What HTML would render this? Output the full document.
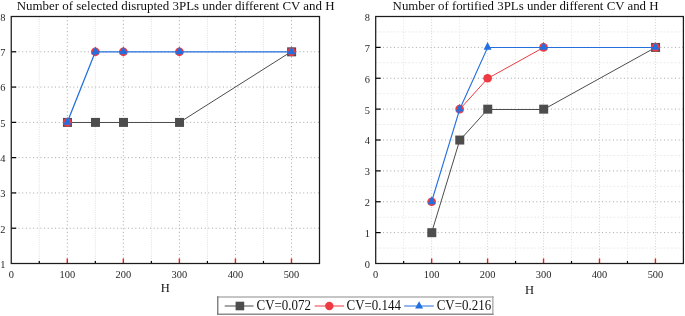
<!DOCTYPE html>
<html><head><meta charset="utf-8"><title>Charts</title>
<style>
html,body{margin:0;padding:0;background:#fff;}
svg{display:block;will-change:transform;}
text{font-family:"Liberation Serif","Noto Serif CJK SC",serif;fill:#111;}
.tl{font-size:10.4px;fill:#262626;}
.al{font-size:12.5px;}
.ti{font-size:12.93px;}
.lg{font-size:12.95px;}
.gm{stroke:#dedede;stroke-width:1;stroke-dasharray:1 1.3;}
.gM{stroke:#a6a6a6;stroke-width:1;stroke-dasharray:1 2.65;}
.gm2{stroke:#ebebeb;stroke-width:1;stroke-dasharray:1.5 1.5;}
.gV2{stroke:#d2d2d2;stroke-width:1;stroke-dasharray:1 1.8;}
.gh2{stroke:#ececec;stroke-width:1;stroke-dasharray:2 1.6;}
.tk{stroke:#000;stroke-width:1.2;}
.tr{stroke:#f21818;stroke-width:1.4;}
.fr{fill:none;stroke:#1c1c1c;stroke-width:1.25;}
</style></head><body>
<svg width="685" height="316" viewBox="0 0 685 316">
<rect width="685" height="316" fill="#fff"/>
<line x1="39.27" y1="16.5" x2="39.27" y2="263.5" class="gm"/>
<line x1="95.32" y1="16.5" x2="95.32" y2="263.5" class="gm"/>
<line x1="151.36" y1="16.5" x2="151.36" y2="263.5" class="gm"/>
<line x1="207.41" y1="16.5" x2="207.41" y2="263.5" class="gm"/>
<line x1="263.45" y1="16.5" x2="263.45" y2="263.5" class="gm"/>
<line x1="67.30" y1="16.5" x2="67.30" y2="263.5" class="gM"/>
<line x1="123.34" y1="16.5" x2="123.34" y2="263.5" class="gM"/>
<line x1="179.39" y1="16.5" x2="179.39" y2="263.5" class="gM"/>
<line x1="235.43" y1="16.5" x2="235.43" y2="263.5" class="gM"/>
<line x1="291.48" y1="16.5" x2="291.48" y2="263.5" class="gM"/>
<line x1="11.25" y1="228.21" x2="319.5" y2="228.21" class="gM"/>
<line x1="11.25" y1="192.93" x2="319.5" y2="192.93" class="gM"/>
<line x1="11.25" y1="157.64" x2="319.5" y2="157.64" class="gM"/>
<line x1="11.25" y1="122.36" x2="319.5" y2="122.36" class="gM"/>
<line x1="11.25" y1="87.07" x2="319.5" y2="87.07" class="gM"/>
<line x1="11.25" y1="51.79" x2="319.5" y2="51.79" class="gM"/>
<line x1="39.27" y1="263.5" x2="39.27" y2="261.0" class="tk"/>
<line x1="95.32" y1="263.5" x2="95.32" y2="261.0" class="tk"/>
<line x1="151.36" y1="263.5" x2="151.36" y2="261.0" class="tk"/>
<line x1="207.41" y1="263.5" x2="207.41" y2="261.0" class="tk"/>
<line x1="263.45" y1="263.5" x2="263.45" y2="261.0" class="tk"/>
<line x1="67.30" y1="263.5" x2="67.30" y2="258.5" class="tr"/>
<line x1="123.34" y1="263.5" x2="123.34" y2="258.5" class="tr"/>
<line x1="179.39" y1="263.5" x2="179.39" y2="258.5" class="tr"/>
<line x1="235.43" y1="263.5" x2="235.43" y2="258.5" class="tr"/>
<line x1="291.48" y1="263.5" x2="291.48" y2="258.5" class="tr"/>
<line x1="11.25" y1="228.21" x2="16.25" y2="228.21" class="tk"/>
<line x1="11.25" y1="192.93" x2="16.25" y2="192.93" class="tk"/>
<line x1="11.25" y1="157.64" x2="16.25" y2="157.64" class="tk"/>
<line x1="11.25" y1="122.36" x2="16.25" y2="122.36" class="tk"/>
<line x1="11.25" y1="87.07" x2="16.25" y2="87.07" class="tk"/>
<line x1="11.25" y1="51.79" x2="16.25" y2="51.79" class="tk"/>
<rect x="11.25" y="16.5" width="308.25" height="247.0" class="fr"/>
<polyline points="67.30,122.50 95.32,122.50 123.34,122.50 179.39,122.50 291.48,51.50" fill="none" stroke="#4d4d4d" stroke-width="1"/>
<rect x="62.95" y="117.91" width="9" height="9" fill="#4d4d4d"/>
<rect x="90.97" y="117.91" width="9" height="9" fill="#4d4d4d"/>
<rect x="118.99" y="117.91" width="9" height="9" fill="#4d4d4d"/>
<rect x="175.04" y="117.91" width="9" height="9" fill="#4d4d4d"/>
<rect x="287.13" y="47.34" width="9" height="9" fill="#4d4d4d"/>
<polyline points="67.30,122.50 95.32,51.50 123.34,51.50 179.39,51.50 291.48,51.50" fill="none" stroke="#ee3a43" stroke-width="0"/>
<circle cx="67.30" cy="122.36" r="4.35" fill="#ee3a43"/>
<circle cx="95.32" cy="51.79" r="4.35" fill="#ee3a43"/>
<circle cx="123.34" cy="51.79" r="4.35" fill="#ee3a43"/>
<circle cx="179.39" cy="51.79" r="4.35" fill="#ee3a43"/>
<circle cx="291.48" cy="51.79" r="4.35" fill="#ee3a43"/>
<polyline points="67.30,122.36 95.32,51.79 123.34,51.79 179.39,51.79 291.48,51.79" fill="none" stroke="#246fde" stroke-width="1.3"/>
<polygon points="67.30,116.96 71.30,124.76 63.30,124.76" fill="#246fde"/>
<polygon points="95.32,46.39 99.32,54.19 91.32,54.19" fill="#246fde"/>
<polygon points="123.34,46.39 127.34,54.19 119.34,54.19" fill="#246fde"/>
<polygon points="179.39,46.39 183.39,54.19 175.39,54.19" fill="#246fde"/>
<polygon points="291.48,46.39 295.48,54.19 287.48,54.19" fill="#246fde"/>
<text x="11.25" y="277.7" class="tl" text-anchor="middle">0</text>
<text x="67.30" y="277.7" class="tl" text-anchor="middle">100</text>
<text x="123.34" y="277.7" class="tl" text-anchor="middle">200</text>
<text x="179.39" y="277.7" class="tl" text-anchor="middle">300</text>
<text x="235.43" y="277.7" class="tl" text-anchor="middle">400</text>
<text x="291.48" y="277.7" class="tl" text-anchor="middle">500</text>
<text x="5.55" y="267.90" class="tl" text-anchor="end">1</text>
<text x="5.55" y="232.61" class="tl" text-anchor="end">2</text>
<text x="5.55" y="197.33" class="tl" text-anchor="end">3</text>
<text x="5.55" y="162.04" class="tl" text-anchor="end">4</text>
<text x="5.55" y="126.76" class="tl" text-anchor="end">5</text>
<text x="5.55" y="91.47" class="tl" text-anchor="end">6</text>
<text x="5.55" y="56.19" class="tl" text-anchor="end">7</text>
<text x="5.55" y="20.90" class="tl" text-anchor="end">8</text>
<text x="165.38" y="292.4" class="al" text-anchor="middle">H</text>
<text x="175.7" y="9.6" class="ti" style="font-size:12.93px" text-anchor="middle">Number of selected disrupted 3PLs under different CV and H</text>
<line x1="403.67" y1="16.5" x2="403.67" y2="263.5" class="gm2"/>
<line x1="459.62" y1="16.5" x2="459.62" y2="263.5" class="gm2"/>
<line x1="515.56" y1="16.5" x2="515.56" y2="263.5" class="gm2"/>
<line x1="571.51" y1="16.5" x2="571.51" y2="263.5" class="gm2"/>
<line x1="627.45" y1="16.5" x2="627.45" y2="263.5" class="gm2"/>
<line x1="375.7" y1="248.06" x2="683.4" y2="248.06" class="gh2"/>
<line x1="375.7" y1="217.19" x2="683.4" y2="217.19" class="gh2"/>
<line x1="375.7" y1="186.31" x2="683.4" y2="186.31" class="gh2"/>
<line x1="375.7" y1="155.44" x2="683.4" y2="155.44" class="gh2"/>
<line x1="375.7" y1="124.56" x2="683.4" y2="124.56" class="gh2"/>
<line x1="375.7" y1="93.69" x2="683.4" y2="93.69" class="gh2"/>
<line x1="375.7" y1="62.81" x2="683.4" y2="62.81" class="gh2"/>
<line x1="375.7" y1="31.94" x2="683.4" y2="31.94" class="gh2"/>
<line x1="431.65" y1="16.5" x2="431.65" y2="263.5" class="gV2"/>
<line x1="487.59" y1="16.5" x2="487.59" y2="263.5" class="gV2"/>
<line x1="543.54" y1="16.5" x2="543.54" y2="263.5" class="gV2"/>
<line x1="599.48" y1="16.5" x2="599.48" y2="263.5" class="gV2"/>
<line x1="655.43" y1="16.5" x2="655.43" y2="263.5" class="gV2"/>
<line x1="375.7" y1="232.62" x2="683.4" y2="232.62" class="gM"/>
<line x1="375.7" y1="201.75" x2="683.4" y2="201.75" class="gM"/>
<line x1="375.7" y1="170.88" x2="683.4" y2="170.88" class="gM"/>
<line x1="375.7" y1="140.00" x2="683.4" y2="140.00" class="gM"/>
<line x1="375.7" y1="109.12" x2="683.4" y2="109.12" class="gM"/>
<line x1="375.7" y1="78.25" x2="683.4" y2="78.25" class="gM"/>
<line x1="375.7" y1="47.38" x2="683.4" y2="47.38" class="gM"/>
<line x1="403.67" y1="263.5" x2="403.67" y2="261.0" class="tk"/>
<line x1="459.62" y1="263.5" x2="459.62" y2="261.0" class="tk"/>
<line x1="515.56" y1="263.5" x2="515.56" y2="261.0" class="tk"/>
<line x1="571.51" y1="263.5" x2="571.51" y2="261.0" class="tk"/>
<line x1="627.45" y1="263.5" x2="627.45" y2="261.0" class="tk"/>
<line x1="431.65" y1="263.5" x2="431.65" y2="258.5" class="tr"/>
<line x1="487.59" y1="263.5" x2="487.59" y2="258.5" class="tr"/>
<line x1="543.54" y1="263.5" x2="543.54" y2="258.5" class="tr"/>
<line x1="599.48" y1="263.5" x2="599.48" y2="258.5" class="tr"/>
<line x1="655.43" y1="263.5" x2="655.43" y2="258.5" class="tr"/>
<line x1="375.7" y1="232.62" x2="380.7" y2="232.62" class="tk"/>
<line x1="375.7" y1="201.75" x2="380.7" y2="201.75" class="tk"/>
<line x1="375.7" y1="170.88" x2="380.7" y2="170.88" class="tk"/>
<line x1="375.7" y1="140.00" x2="380.7" y2="140.00" class="tk"/>
<line x1="375.7" y1="109.12" x2="380.7" y2="109.12" class="tk"/>
<line x1="375.7" y1="78.25" x2="380.7" y2="78.25" class="tk"/>
<line x1="375.7" y1="47.38" x2="380.7" y2="47.38" class="tk"/>
<rect x="375.7" y="16.5" width="307.7" height="247.0" class="fr"/>
<polyline points="431.65,232.50 459.62,140.50 487.59,109.50 543.54,109.50 655.43,47.50" fill="none" stroke="#4d4d4d" stroke-width="1"/>
<rect x="427.30" y="228.18" width="9" height="9" fill="#4d4d4d"/>
<rect x="455.27" y="135.55" width="9" height="9" fill="#4d4d4d"/>
<rect x="483.24" y="104.67" width="9" height="9" fill="#4d4d4d"/>
<rect x="539.19" y="104.67" width="9" height="9" fill="#4d4d4d"/>
<rect x="651.08" y="42.92" width="9" height="9" fill="#4d4d4d"/>
<polyline points="459.62,109.50 487.59,78.50 543.54,47.50 655.43,47.50" fill="none" stroke="#ee3a43" stroke-width="1"/>
<circle cx="431.65" cy="201.75" r="4.35" fill="#ee3a43"/>
<circle cx="459.62" cy="109.12" r="4.35" fill="#ee3a43"/>
<circle cx="487.59" cy="78.25" r="4.35" fill="#ee3a43"/>
<circle cx="543.54" cy="47.38" r="4.35" fill="#ee3a43"/>
<circle cx="655.43" cy="47.38" r="4.35" fill="#ee3a43"/>
<polyline points="431.65,201.50 459.62,109.50 487.59,47.50 543.54,47.50 655.43,47.50" fill="none" stroke="#246fde" stroke-width="1.1"/>
<polygon points="431.65,196.35 435.65,204.15 427.65,204.15" fill="#246fde"/>
<polygon points="459.62,103.72 463.62,111.53 455.62,111.53" fill="#246fde"/>
<polygon points="487.59,41.98 491.59,49.77 483.59,49.77" fill="#246fde"/>
<polygon points="543.54,41.98 547.54,49.77 539.54,49.77" fill="#246fde"/>
<polygon points="655.43,41.98 659.43,49.77 651.43,49.77" fill="#246fde"/>
<text x="375.70" y="277.7" class="tl" text-anchor="middle">0</text>
<text x="431.65" y="277.7" class="tl" text-anchor="middle">100</text>
<text x="487.59" y="277.7" class="tl" text-anchor="middle">200</text>
<text x="543.54" y="277.7" class="tl" text-anchor="middle">300</text>
<text x="599.48" y="277.7" class="tl" text-anchor="middle">400</text>
<text x="655.43" y="277.7" class="tl" text-anchor="middle">500</text>
<text x="370.0" y="267.90" class="tl" text-anchor="end">0</text>
<text x="370.0" y="237.03" class="tl" text-anchor="end">1</text>
<text x="370.0" y="206.15" class="tl" text-anchor="end">2</text>
<text x="370.0" y="175.28" class="tl" text-anchor="end">3</text>
<text x="370.0" y="144.40" class="tl" text-anchor="end">4</text>
<text x="370.0" y="113.53" class="tl" text-anchor="end">5</text>
<text x="370.0" y="82.65" class="tl" text-anchor="end">6</text>
<text x="370.0" y="51.77" class="tl" text-anchor="end">7</text>
<text x="370.0" y="20.90" class="tl" text-anchor="end">8</text>
<text x="529.55" y="293.9" class="al" text-anchor="middle">H</text>
<text x="525.6" y="9.6" class="ti" style="font-size:12.87px" text-anchor="middle">Number of fortified 3PLs under different CV and H</text>

<rect x="217.75" y="297" width="275.1" height="17.2" fill="#fff"/>
<line x1="217.1" y1="297" x2="493.5" y2="297" stroke="#b2b2b2" stroke-width="1.4"/>
<line x1="492.85" y1="296.3" x2="492.85" y2="314.9" stroke="#adadad" stroke-width="1.4"/>
<line x1="217.1" y1="314.2" x2="493.5" y2="314.2" stroke="#8c8c8c" stroke-width="1.4"/>
<line x1="217.75" y1="296.3" x2="217.75" y2="314.9" stroke="#7c7c7c" stroke-width="1.4"/>
<line x1="224.7" y1="306" x2="253.6" y2="306" stroke="#4d4d4d" stroke-width="1"/>
<rect x="235.6" y="301.7" width="8.6" height="8.6" fill="#4d4d4d"/>
<text transform="translate(256.5,309.9) scale(1,1.07)" class="lg">CV=0.072</text>
<line x1="314.7" y1="306" x2="344" y2="306" stroke="#ee3a43" stroke-width="1"/>
<circle cx="329.3" cy="306" r="4.2" fill="#ee3a43"/>
<text transform="translate(346.5,309.9) scale(1,1.07)" class="lg">CV=0.144</text>
<line x1="404.2" y1="306" x2="433.8" y2="306" stroke="#246fde" stroke-width="1"/>
<polygon points="419.1,301.2 423.1,308.4 415.1,308.4" fill="#246fde"/>
<text transform="translate(436.7,309.9) scale(1,1.07)" class="lg">CV=0.216</text>

</svg>
</body></html>
